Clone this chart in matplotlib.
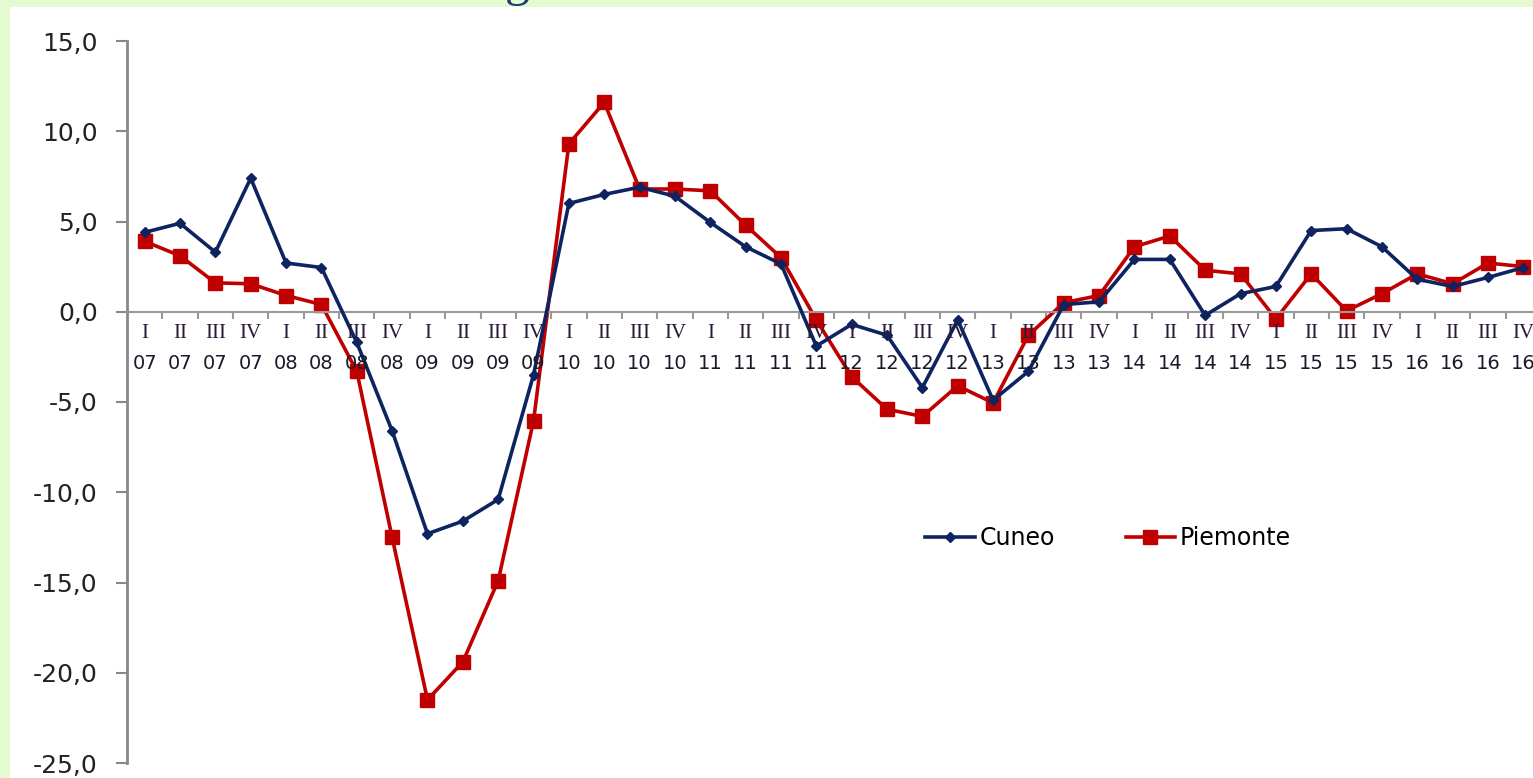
import numpy as np
import matplotlib
matplotlib.use("Agg")
from matplotlib import pyplot as plt
from matplotlib.patches import Rectangle
import matplotlib.transforms as mtrans

# Trimestri e anni
trimestri = ["I", "II", "III", "IV"] * 10
anni = [f"{a:02d}" for a in range(7, 17) for _ in range(4)]

cuneo = [4.4, 4.9, 3.3, 7.4, 2.7, 2.45, -1.7, -6.6,
         -12.3, -11.6, -10.4, -3.5, 6.0, 6.5, 6.9, 6.4,
         4.95, 3.6, 2.65, -1.9, -0.7, -1.3, -4.2, -0.45,
         -4.9, -3.3, 0.4, 0.55, 2.9, 2.9, -0.2, 1.0,
         1.4, 4.5, 4.6, 3.6, 1.8, 1.4, 1.9, 2.45]
piemonte = [3.9, 3.1, 1.6, 1.55, 0.9, 0.4, -3.3, -12.5,
            -21.5, -19.4, -14.9, -6.05, 9.3, 11.6, 6.8, 6.8,
            6.7, 4.8, 3.0, -0.45, -3.6, -5.4, -5.8, -4.1,
            -5.05, -1.3, 0.5, 0.9, 3.6, 4.2, 2.3, 2.1,
            -0.4, 2.1, 0.05, 1.0, 2.1, 1.55, 2.7, 2.5]

W, H = 1533, 778
fig = plt.figure(figsize=(W / 100, H / 100), dpi=100)
fig.patch.set_facecolor("#e4fbd2")
fig.add_artist(Rectangle((10 / W, 0), 1, 1 - 7 / H, transform=fig.transFigure,
                         facecolor="white", edgecolor="none", zorder=0))
# pezzo del titolo tagliato in alto
fig.text(505 / W, 1 + 5 / H, "g", fontsize=36, family="Liberation Serif",
         color="#1f3c78", va="baseline", ha="left")

x0, x1 = 127, 1541
y_top, y_bot = 41, 763
ax = fig.add_axes([x0 / W, (H - y_bot) / H, (x1 - x0) / W, (y_bot - y_top) / H])
ax.patch.set_visible(False)

x = np.arange(len(cuneo))
ax.plot(x, cuneo, color="#0d2460", lw=2.6, marker="D", markersize=5.5,
        label="Cuneo", clip_on=False, zorder=3)
ax.plot(x, piemonte, color="#c00000", lw=2.6, marker="s", markersize=9.5,
        label="Piemonte", clip_on=False, zorder=2)

ax.set_xlim(-0.5, 39.5)
ax.set_ylim(-25, 15)
ax.set_yticks(np.arange(-25, 16, 5))
ax.set_yticklabels([f"{v:.1f}".replace(".", ",") for v in np.arange(-25, 16, 5)],
                   fontsize=18, color="#222222")
ax.tick_params(axis="y", direction="out", length=8, width=1.5, color="#888888", pad=13)

for s in ["top", "right"]:
    ax.spines[s].set_visible(False)
ax.spines["left"].set_color("#888888")
ax.spines["left"].set_linewidth(2)
ax.spines["bottom"].set_position(("data", 0))
ax.spines["bottom"].set_color("#999999")
ax.spines["bottom"].set_linewidth(1.5)

ax.set_xticks(np.arange(0.5, 39.5, 1))
ax.set_xticklabels([])
ax.tick_params(axis="x", direction="out", length=5, width=1.5, color="#999999")

trans = mtrans.blended_transform_factory(ax.transData, ax.transData)
for i, (t, a) in enumerate(zip(trimestri, anni)):
    ax.text(i, -1.2, t, ha="center", va="center", fontsize=15,
            family="Liberation Serif", color="#2a1a3a", transform=trans, clip_on=False)
    ax.text(i, -2.85, a, ha="center", va="center", fontsize=14,
            color="#1a1a2a", transform=trans, clip_on=False)

leg = ax.legend(loc="center", bbox_to_anchor=((1108 - x0) / (x1 - x0), (y_bot - 538) / (y_bot - y_top)),
                ncol=2, frameon=False, fontsize=17, handlelength=2.1, columnspacing=3.0,
                handletextpad=0.2)

fig.savefig("out.png", dpi=100, facecolor=fig.get_facecolor())
